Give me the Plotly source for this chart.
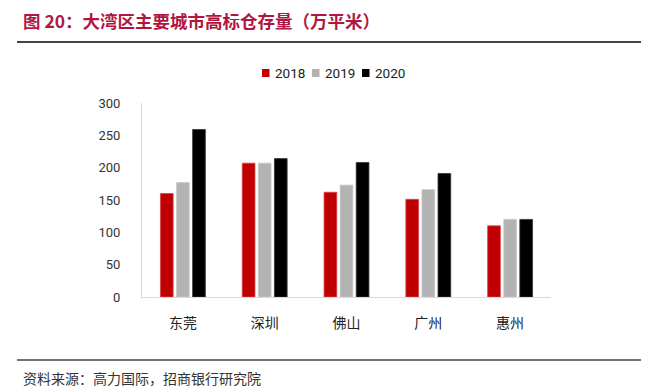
import plotly.graph_objects as go

cities = ["东莞", "深圳", "佛山", "广州", "惠州"]
years = ["2018", "2019", "2020"]
v2018 = [160, 207, 162, 151, 110]
v2019 = [177, 207, 173, 166, 120]
v2020 = [259, 214, 208, 191, 120]
colors = ["#C00000", "#B3B3B3", "#000000"]
edge = ["#D9404A", "#C8C8C8", "#333333"]

L, R, T, B = 142, 102, 103, 91
W, H = 653, 388
pw, ph = W - L - R, H - T - B


def px(x):
    return (x - L) / pw


def py(y):
    return (H - B - y) / ph


fig = go.Figure()
for yr, vals, c, e in zip(years, [v2018, v2019, v2020], colors, edge):
    fig.add_trace(go.Bar(x=cities, y=vals, name=yr, showlegend=False,
                         marker=dict(color=c, line=dict(color=e, width=0.8))))

font = "Noto Sans CJK SC"
numfont = "Liberation Sans Narrow, Roboto, sans-serif"
fig.update_layout(
    width=W, height=H,
    margin=dict(l=L, r=R, t=T, b=B),
    paper_bgcolor="white", plot_bgcolor="white",
    barmode="group", bargap=0.41, bargroupgap=0.21,
    font=dict(family=font, size=12, color="#333333"),
    showlegend=False,
    xaxis=dict(showline=True, linecolor="#D9D9D9", linewidth=1, ticks="",
               tickfont=dict(size=14, color="#222222", family=font), ticklabelstandoff=13,
               showgrid=False, fixedrange=True),
    yaxis=dict(range=[0, 300], dtick=50, showline=True, linecolor="#D9D9D9", linewidth=1,
               showgrid=False, zeroline=False, ticks="",
               tickfont=dict(size=13, color="#333333", family=numfont),
               ticklabelstandoff=18, fixedrange=True),
)

# custom legend (compact, like the reference)
leg_x0, leg_pitch, leg_y = 262, 50, 73
for i, (yr, c) in enumerate(zip(years, colors)):
    x0 = leg_x0 + i * leg_pitch
    fig.add_shape(type="rect", xref="paper", yref="paper",
                  x0=px(x0), x1=px(x0 + 7.5), y0=py(leg_y + 4), y1=py(leg_y - 4),
                  fillcolor=c, line=dict(width=0))
    fig.add_annotation(text=yr, xref="paper", yref="paper", x=px(x0 + 11), y=py(leg_y),
                       xanchor="left", yanchor="middle", showarrow=False,
                       font=dict(size=13.5, color="#222222", family=numfont))

fig.add_annotation(text="<b>图 20：大湾区主要城市高标仓存量（万平米）</b>", xref="paper", yref="paper",
                   x=px(21), y=py(20), xanchor="left", yanchor="middle", showarrow=False,
                   font=dict(size=17.5, color="#B0173F", family=font))
fig.add_annotation(text="资料来源：高力国际，招商银行研究院", xref="paper", yref="paper",
                   x=px(21), y=py(378), xanchor="left", yanchor="middle", showarrow=False,
                   font=dict(size=14, color="#333333", family=font))
fig.add_shape(type="line", xref="paper", yref="paper", x0=px(17), x1=px(641), y0=py(42), y1=py(42),
              line=dict(color="#444444", width=2))
fig.add_shape(type="line", xref="paper", yref="paper", x0=px(17), x1=px(641), y0=py(360), y1=py(360),
              line=dict(color="#444444", width=1.5))

fig.write_html("out.html", config={"displayModeBar": False},
               post_script="document.body.style.margin='0px';")
